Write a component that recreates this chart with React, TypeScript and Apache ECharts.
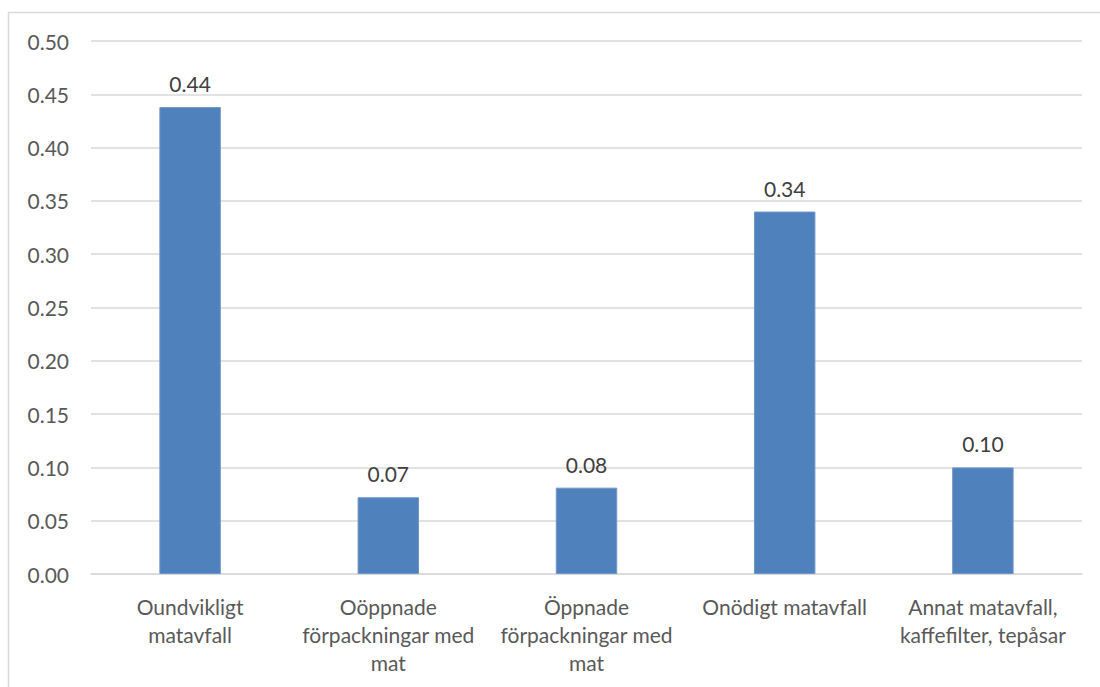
import React, { useEffect, useRef } from "react";
import * as echarts from "echarts";

const categories = [
  "Oundvikligt\nmatavfall",
  "Oöppnade\nförpackningar med\nmat",
  "Öppnade\nförpackningar med\nmat",
  "Onödigt matavfall",
  "Annat matavfall,\nkaffefilter, tepåsar",
];
const values = [0.438, 0.072, 0.081, 0.34, 0.1];

export default function App() {
  const ref = useRef<HTMLDivElement>(null);
  useEffect(() => {
    document.body.style.margin = "0";
    const chart = echarts.init(ref.current!, null, { renderer: "svg" });
    const font = "Lato, 'Open Sans', sans-serif";
    chart.setOption({
      animation: false,
      backgroundColor: "#ffffff",
      graphic: [
        {
          type: "polyline",
          shape: { points: [[8.5, 700], [8.5, 12.5], [1110, 12.5]] },
          style: { stroke: "#d9d9d9", lineWidth: 1.5, fill: "none" },
          silent: true,
        },
      ],
      grid: { left: 91, right: 18, top: 41, bottom: 113, containLabel: false },
      xAxis: {
        type: "category",
        data: categories,
        axisLine: { show: true, lineStyle: { color: "#d9d9d9", width: 1.5 } },
        axisTick: { show: false },
        axisLabel: {
          color: "#595959",
          fontFamily: font,
          fontSize: 21,
          lineHeight: 28,
          margin: 18,
          interval: 0,
        },
      },
      yAxis: {
        type: "value",
        min: 0,
        max: 0.5,
        interval: 0.05,
        axisLine: { show: false },
        axisTick: { show: false },
        splitLine: { lineStyle: { color: "#d9d9d9", width: 1.5 } },
        axisLabel: {
          color: "#595959",
          fontFamily: font,
          fontSize: 21,
          margin: 22,
          formatter: (v: number) => v.toFixed(2),
        },
      },
      series: [
        {
          type: "bar",
          data: values,
          barWidth: "31%",
          itemStyle: { color: "#4f81bd", borderColor: "#6f96c9", borderWidth: 1 },
          label: {
            show: true,
            position: "top",
            distance: 13,
            color: "#404040",
            fontFamily: font,
            fontSize: 21,
            formatter: (p: any) => p.value.toFixed(2),
          },
        },
      ],
    });
    return () => chart.dispose();
  }, []);
  return <div ref={ref} style={{ width: 1100, height: 687 }} />;
}
